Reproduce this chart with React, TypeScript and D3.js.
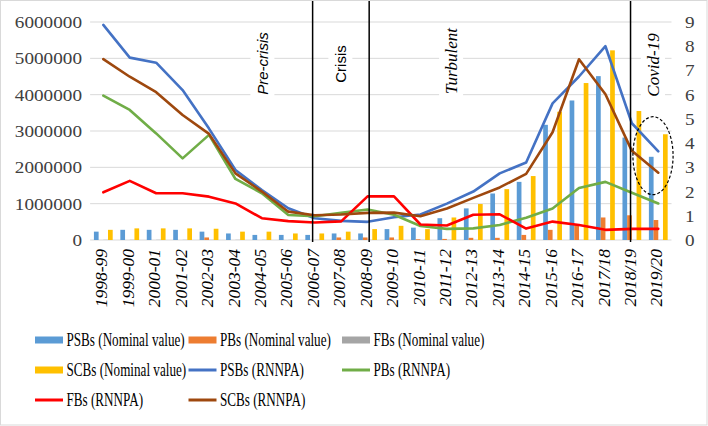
import React from "react";
import * as d3 from "d3";

const categories = [
  "1998-99", "1999-00", "2000-01", "2001-02", "2002-03", "2003-04", "2004-05",
  "2005-06", "2006-07", "2007-08", "2008-09", "2009-10", "2010-11", "2011-12",
  "2012-13", "2013-14", "2014-15", "2015-16", "2016-17", "2017/18", "2018/19", "2019/20",
];

// Nominal values (left axis)
const psbsNominal = [230000, 280000, 280000, 280000, 230000, 180000, 140000, 140000, 140000, 180000, 180000, 300000, 340000, 600000, 870000, 1280000, 1600000, 3170000, 3840000, 4510000, 2820000, 2290000];
const pbsNominal = [0, 0, 0, 0, 70000, 0, 0, 0, 0, 70000, 70000, 70000, 20000, 30000, 60000, 60000, 140000, 280000, 420000, 620000, 680000, 550000];
const fbsNominal = [5000, 5000, 5000, 5000, 5000, 5000, 5000, 5000, 5000, 5000, 5000, 5000, 5000, 5000, 5000, 5000, 5000, 5000, 5000, 5000, 5000, 5000];
const scbsNominal = [280000, 320000, 320000, 320000, 310000, 230000, 230000, 180000, 180000, 230000, 300000, 390000, 300000, 620000, 990000, 1400000, 1760000, 3530000, 4320000, 5220000, 3550000, 2910000];

// RNNPA (right axis)
const psbsRnnpa = [8.88, 7.53, 7.32, 6.19, 4.6, 2.89, 2.06, 1.31, 0.9, 0.79, 0.75, 0.94, 1.05, 1.5, 2.0, 2.75, 3.2, 5.64, 6.75, 8.0, 4.82, 3.66];
const pbsRnnpa = [5.96, 5.37, 4.4, 3.37, 4.34, 2.52, 1.93, 1.03, 0.98, 1.12, 1.26, 1.04, 0.58, 0.46, 0.48, 0.62, 0.92, 1.3, 2.15, 2.4, 1.95, 1.51];
const fbsRnnpa = [1.97, 2.44, 1.93, 1.93, 1.79, 1.51, 0.9, 0.78, 0.72, 0.77, 1.8, 1.8, 0.64, 0.6, 1.04, 1.06, 0.47, 0.76, 0.62, 0.42, 0.46, 0.46];
const scbsRnnpa = [7.47, 6.74, 6.1, 5.16, 4.38, 2.75, 2.0, 1.17, 1.02, 1.05, 1.12, 1.13, 0.98, 1.3, 1.74, 2.17, 2.73, 4.45, 7.46, 6.02, 3.68, 2.78];

const leftTicks = [0, 1000000, 2000000, 3000000, 4000000, 5000000, 6000000];
const rightTicks = [0, 1, 2, 3, 4, 5, 6, 7, 8, 9];

const periodNames = ["Pre-crisis", "Crisis", "Turbulent", "Covid-19"];

const barSeries = [
  { key: "PSBs (Nominal value)", values: psbsNominal, color: "#5B9BD5" },
  { key: "PBs (Nominal value)", values: pbsNominal, color: "#ED7D31" },
  { key: "FBs (Nominal value)", values: fbsNominal, color: "#A5A5A5" },
  { key: "SCBs (Nominal value)", values: scbsNominal, color: "#FFC000" },
];
const lineSeries = [
  { key: "PSBs (RNNPA)", values: psbsRnnpa, color: "#4472C4" },
  { key: "PBs (RNNPA)", values: pbsRnnpa, color: "#70AD47" },
  { key: "FBs (RNNPA)", values: fbsRnnpa, color: "#FF0000" },
  { key: "SCBs (RNNPA)", values: scbsRnnpa, color: "#9E480E" },
];

const W = 708;
const H = 426;
const plotLeft = 90.1;
const plotRight = 671.5;
const plotTop = 22;
const plotBottom = 240;

export default function App() {
  const x = d3
    .scaleBand<string>()
    .domain(categories)
    .range([plotLeft, plotRight])
    .paddingInner(0.289)
    .paddingOuter(0.1445);
  const xs = d3
    .scaleBand<string>()
    .domain(barSeries.map((s) => s.key))
    .range([0, x.bandwidth()]);
  const yL = d3.scaleLinear().domain([0, 6000000]).range([plotBottom, plotTop]);
  const yR = d3.scaleLinear().domain([0, 9]).range([plotBottom, plotTop]);
  const n = categories.length;
  const xc = (i: number) => (x(categories[i]) as number) + x.bandwidth() / 2;
  const xIdx = d3.scaleLinear().domain([0, n - 1]).range([xc(0), xc(n - 1)]);

  const line = d3
    .line<number>()
    .x((_, i) => xc(i))
    .y((d) => yR(d));

  const serif = "'Liberation Serif', 'Times New Roman', serif";
  const sans = "'Liberation Sans', Arial, sans-serif";

  // period annotations (index position, font)
  const periodPos = [6.02, 8.97, 13.16, 20.8];
  const periodFont = [
    { family: sans, style: "italic", size: 15 },
    { family: sans, style: "normal", size: 15 },
    { family: serif, style: "italic", size: 17 },
    { family: serif, style: "italic", size: 17 },
  ];
  const periodCenterY = [63.5, 64, 61, 65];
  const periodBox = [76, 48, 76, 74];
  const dividers = [7.92, 10.06, 19.95];

  const legendCols = [35, 188.5, 342];
  const legendRows = [340, 370, 400];
  const legendItems = [
    ...barSeries.map((s) => ({ key: s.key, color: s.color, kind: "bar" })),
    ...lineSeries.map((s) => ({ key: s.key, color: s.color, kind: "line" })),
  ];

  const ellipseCx = xIdx(20.8);
  const ellipseCy = yR(3.48);
  const ellipseRx = xIdx(21.56) - xIdx(20.8);
  const ellipseRy = yR(0) - yR(1.61);

  return (
    <svg
      width={W}
      height={H}
      style={{ position: "absolute", left: 0, top: 0, background: "#fff" }}
    >
      <rect x={0.5} y={0.5} width={W - 1.5} height={H - 1.5} fill="#fff" stroke="#d9d9d9" />

      {/* gridlines */}
      {leftTicks.map((t) => (
        <line key={t} x1={plotLeft} x2={plotRight} y1={yL(t)} y2={yL(t)} stroke="#d9d9d9" strokeWidth={1} />
      ))}

      {/* label boxes cover gridlines */}
      {periodNames.map((p, k) => (
        <rect
          key={p}
          x={xIdx(periodPos[k]) - 12}
          y={periodCenterY[k] - periodBox[k] / 2}
          width={24}
          height={periodBox[k]}
          fill="#fff"
        />
      ))}

      {/* bars */}
      {barSeries.map((s) =>
        s.values.map((v, i) => (
          <rect
            key={s.key + i}
            x={(x(categories[i]) as number) + (xs(s.key) as number)}
            y={yL(v)}
            width={xs.bandwidth()}
            height={yL(0) - yL(v)}
            fill={s.color}
          />
        ))
      )}

      {/* lines */}
      {lineSeries.map((s) => (
        <path
          key={s.key}
          d={line(s.values) as string}
          fill="none"
          stroke={s.color}
          strokeWidth={2.6}
          strokeLinejoin="round"
          strokeLinecap="round"
        />
      ))}

      {/* dividers */}
      {dividers.map((d) => (
        <line key={d} x1={xIdx(d)} x2={xIdx(d)} y1={1} y2={242} stroke="#000" strokeWidth={1.5} />
      ))}

      {/* period labels */}
      {periodNames.map((p, k) => (
        <text
          key={p}
          transform={`translate(${xIdx(periodPos[k])},${periodCenterY[k]}) rotate(-90)`}
          textAnchor="middle"
          dy="0.35em"
          fontFamily={periodFont[k].family}
          fontStyle={periodFont[k].style}
          fontSize={periodFont[k].size}
          fill="#000"
        >
          {p}
        </text>
      ))}

      {/* ellipse */}
      <ellipse
        cx={ellipseCx}
        cy={ellipseCy}
        rx={ellipseRx}
        ry={ellipseRy}
        fill="none"
        stroke="#000"
        strokeWidth={1.2}
        strokeDasharray="3,2"
      />

      {/* left axis labels */}
      {leftTicks.map((t) => (
        <text
          key={t}
          transform={`translate(82,${yL(t)}) scale(1.13,1)`}
          textAnchor="end"
          dy="0.35em"
          fontFamily={serif}
          fontSize={17}
          fill="#404040"
        >
          {t}
        </text>
      ))}

      {/* right axis labels */}
      {rightTicks.map((t) => (
        <text
          key={t}
          transform={`translate(685,${yR(t)}) scale(1.13,1)`}
          textAnchor="start"
          dy="0.35em"
          fontFamily={serif}
          fontSize={17}
          fill="#404040"
        >
          {t}
        </text>
      ))}

      {/* x labels */}
      {categories.map((c, i) => (
        <text
          key={c}
          transform={`translate(${xc(i) - 2},249) rotate(-90)`}
          textAnchor="end"
          dy="0.35em"
          fontFamily={serif}
          fontStyle="italic"
          fontSize={17.5}
          fill="#000"
        >
          {c}
        </text>
      ))}

      {/* legend */}
      {legendItems.map((it, k) => {
        const col = k % 3;
        const row = Math.floor(k / 3);
        const lx = legendCols[col];
        const ly = legendRows[row];
        return (
          <g key={it.key}>
            {it.kind === "bar" ? (
              <rect x={lx} y={ly - 3.5} width={28} height={7} fill={it.color} />
            ) : (
              <line x1={lx} x2={lx + 28} y1={ly} y2={ly} stroke={it.color} strokeWidth={3} />
            )}
            <g transform={`translate(${lx + 31.5},${ly}) scale(0.73,1)`}>
              <text dy="0.35em" fontFamily={serif} fontSize={18} fill="#000">
                {it.key}
              </text>
            </g>
          </g>
        );
      })}
    </svg>
  );
}
